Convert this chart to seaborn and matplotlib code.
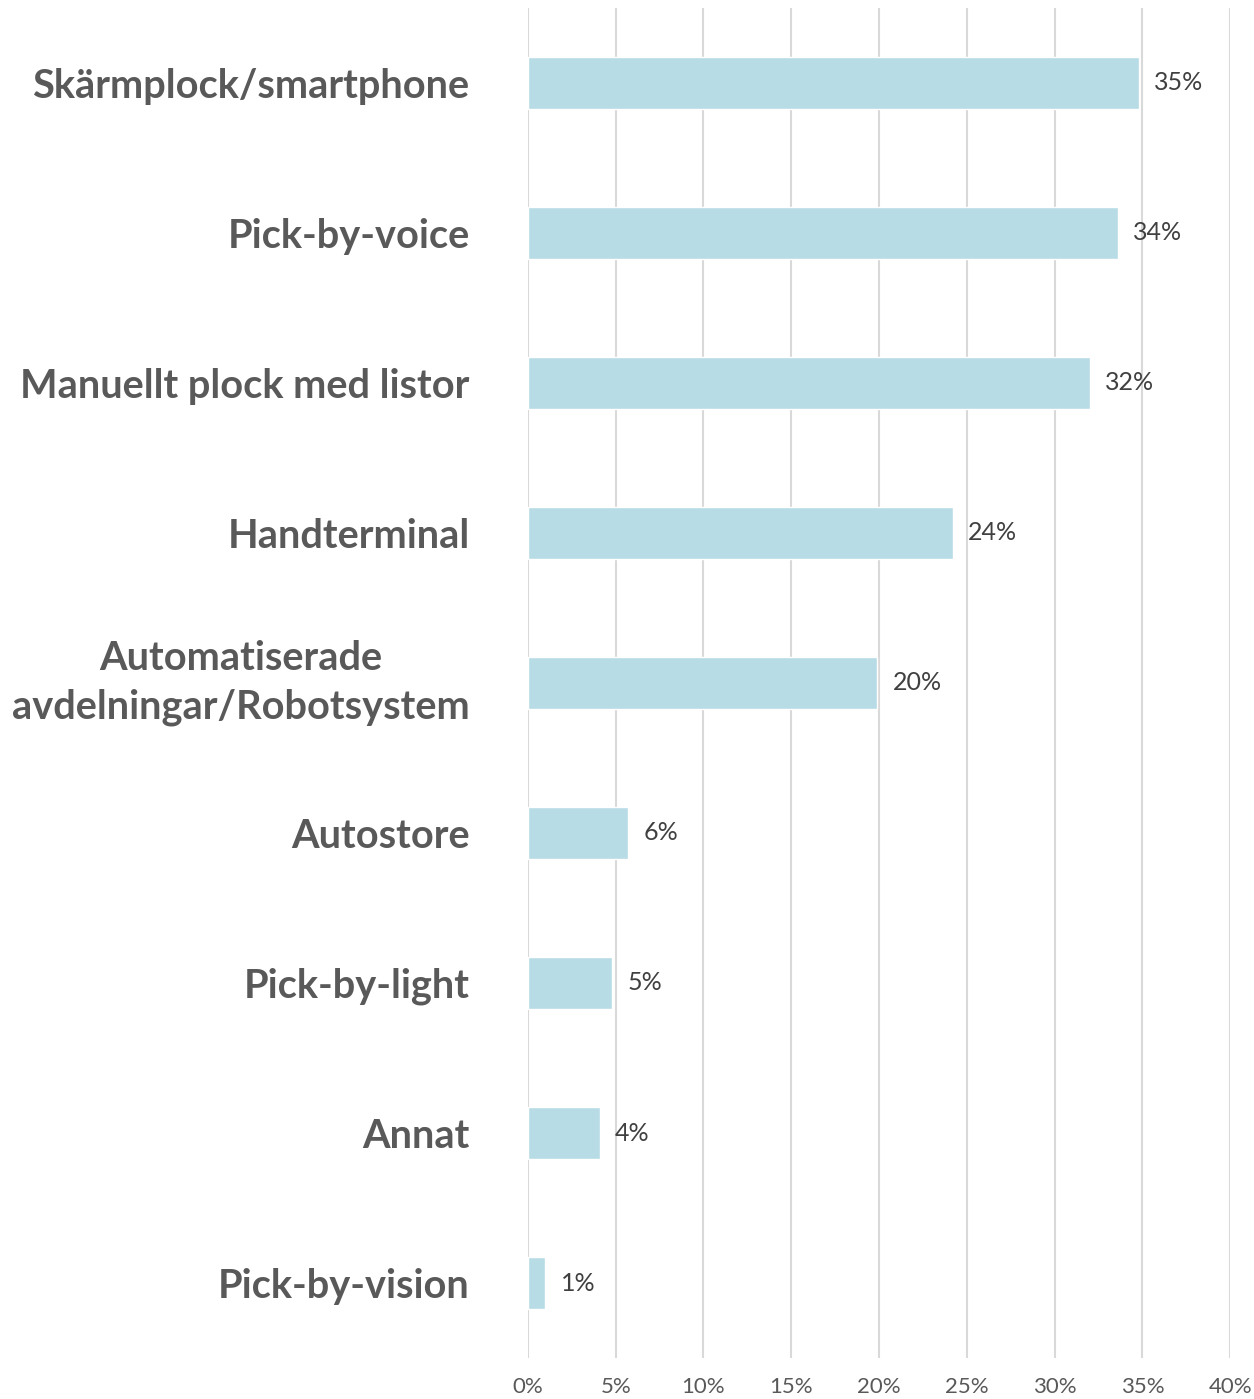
import matplotlib
matplotlib.use('Agg')
import matplotlib.pyplot as plt
import seaborn as sns
import pandas as pd
from matplotlib.ticker import FuncFormatter

# values (percent)
categories = [
    "Skärmplock/smartphone",
    "Pick-by-voice",
    "Manuellt plock med listor",
    "Handterminal",
    "Automatiserade\navdelningar/Robotsystem",
    "Autostore",
    "Pick-by-light",
    "Annat",
    "Pick-by-vision",
]
shares = [34.8, 33.6, 32.0, 24.2, 19.9, 5.7, 4.8, 4.1, 1.0]
value_labels = ["35%", "34%", "32%", "24%", "20%", "6%", "5%", "4%", "1%"]
x_ticks = [0, 5, 10, 15, 20, 25, 30, 35, 40]

df = pd.DataFrame({"category": categories, "share": shares})

sns.set_style("white")
plt.rcParams['font.family'] = ['Lato', 'DejaVu Sans']

fig = plt.figure(figsize=(12.54, 13.99), dpi=100)
ax = fig.add_axes([0.421, 0.0293, 0.981 - 0.421, 0.9943 - 0.0293])

sns.barplot(data=df, x="share", y="category", color="#B8DCE5",
            width=0.35, saturation=1, ax=ax, orient="h")

ax.set_xlim(0, 40)
ax.set_xticks(x_ticks)
ax.xaxis.set_major_formatter(FuncFormatter(lambda v, p: f"{v:.0f}%"))
ax.grid(axis="x", color="#D9D9D9", linewidth=1.5)
ax.grid(axis="y", visible=False)
ax.set_axisbelow(True)
for s in ax.spines.values():
    s.set_visible(False)

ax.set_xlabel("")
ax.set_ylabel("")
ax.tick_params(axis="x", length=0, pad=14, labelsize=16, labelcolor="#595959")
ax.tick_params(axis="y", length=0, pad=42)
for lbl in ax.get_yticklabels():
    lbl.set_fontsize(28.6)
    lbl.set_fontweight("bold")
    lbl.set_color("#595959")
    lbl.set_multialignment("center")
    lbl.set_linespacing(1.4)
    if "\n" in lbl.get_text():
        lbl.set_verticalalignment("center")

ax.bar_label(ax.containers[0], labels=value_labels, padding=11,
             fontsize=18, color="#404040")

fig.savefig("out.png", dpi=100)
